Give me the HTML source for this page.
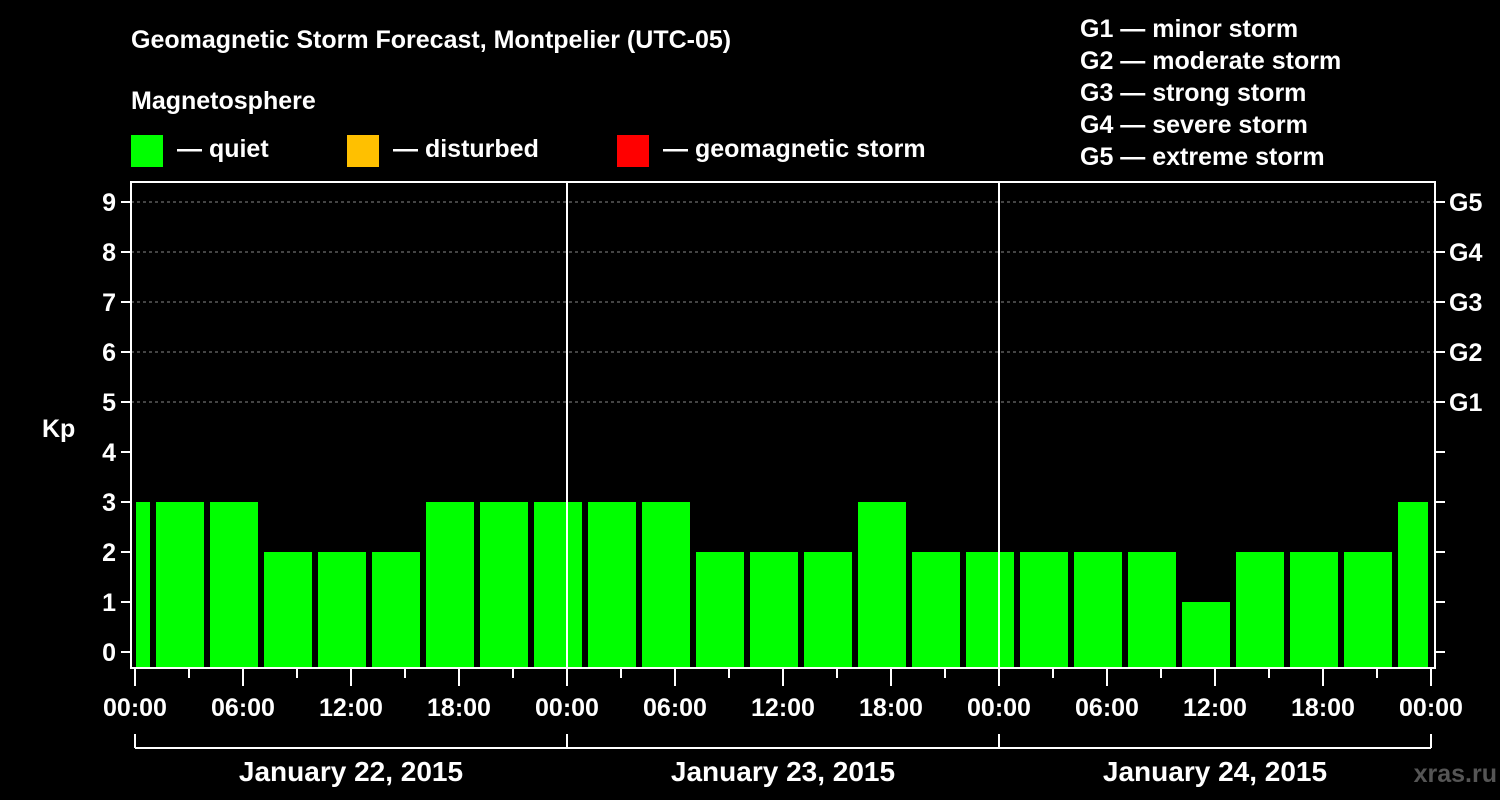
<!DOCTYPE html>
<html><head><meta charset="utf-8"><style>
body{margin:0;background:#000;width:1500px;height:800px;overflow:hidden}
svg{display:block;font-family:"Liberation Sans",Arial,sans-serif;font-weight:bold}
</style></head><body>
<svg id="c" width="1500" height="800">
<rect width="1500" height="800" fill="#000"/>
<text x="131" y="48" fill="#fff" font-size="25">Geomagnetic Storm Forecast, Montpelier (UTC-05)</text>
<text x="131" y="109" fill="#fff" font-size="25">Magnetosphere</text>
<g><rect x="131" y="135" width="32" height="32" fill="#00ff00"/><text x="177" y="157" fill="#fff" font-size="25">— quiet</text></g>
<g><rect x="347" y="135" width="32" height="32" fill="#ffc000"/><text x="393" y="157" fill="#fff" font-size="25">— disturbed</text></g>
<g><rect x="617" y="135" width="32" height="32" fill="#ff0000"/><text x="663" y="157" fill="#fff" font-size="25">— geomagnetic storm</text></g>
<g fill="#fff" font-size="25">
<text x="1080" y="37">G1 — minor storm</text><text x="1080" y="69">G2 — moderate storm</text><text x="1080" y="101">G3 — strong storm</text><text x="1080" y="133">G4 — severe storm</text><text x="1080" y="165">G5 — extreme storm</text>
</g>
<text x="42" y="437" fill="#fff" font-size="25">Kp</text>
<text x="1497" y="782" fill="#555" font-size="25" text-anchor="end">xras.ru</text>
<g id="g"></g>
</svg>
<script>
const kpValues=[3,3,3,2,2,2,3,3,3,3,3,2,2,2,3,2,2,2,2,2,1,2,2,2,3];
const yTicks=[0,1,2,3,4,5,6,7,8,9];
const gLabels=["G1","G2","G3","G4","G5"];
const xTickLabels=["00:00","06:00","12:00","18:00","00:00","06:00","12:00","18:00","00:00","06:00","12:00","18:00","00:00"];
const dayLabels=["January 22, 2015","January 23, 2015","January 24, 2015"];
const NS="http://www.w3.org/2000/svg",g=document.getElementById('g');
const L=131,R=1435,T=182,B=668,X0=135,PXH=18;
const x=h=>X0+h*PXH, y=v=>652-50*v;
function el(t,a,txt){const e=document.createElementNS(NS,t);for(const k in a)e.setAttribute(k,a[k]);if(txt!==undefined)e.textContent=txt;g.appendChild(e);return e;}
// grid
for(let v=5;v<=9;v++){const e=el('line',{x1:L,x2:R,y1:y(v),y2:y(v),stroke:'#888','stroke-dasharray':'3,3'});

}
// bars
kpValues.forEach((v,i)=>{const h0=Math.max(0,-2+3*i),h1=Math.min(72,1+3*i);
const x0=x(h0)+(i==0?1:3),x1=x(h1)-3;
const r=el('rect',{x:x0,y:y(v),width:x1-x0,height:B-1-y(v),fill:'#00ff00'});

});
// day separators
for(let d=1;d<3;d++){const e=el('line',{x1:x(24*d),x2:x(24*d),y1:T,y2:B,stroke:'#fff','stroke-width':2});

}
// frame
const f=el('rect',{x:L,y:T,width:R-L,height:B-T,fill:'none',stroke:'#fff','stroke-width':2});


// y ticks
yTicks.forEach(v=>{el('line',{x1:121,x2:L,y1:y(v),y2:y(v),stroke:'#fff','stroke-width':2});
el('line',{x1:R,x2:R+10,y1:y(v),y2:y(v),stroke:'#fff','stroke-width':2});
const t=el('text',{x:116,y:y(v)+9,fill:'#fff','font-size':25,'text-anchor':'end'},v);

});
gLabels.forEach((s,i)=>{const t=el('text',{x:1449,y:y(5+i)+9,fill:'#fff','font-size':25},s);

});
// x ticks
for(let h=0;h<=72;h+=3){const maj=h%6==0;el('line',{x1:x(h),x2:x(h),y1:B,y2:maj?686:678,stroke:'#fff','stroke-width':2});}
xTickLabels.forEach((s,i)=>{const t=el('text',{x:x(i*6),y:716,fill:'#fff','font-size':25,'text-anchor':'middle'},s);

});
// day bracket
el('line',{x1:x(0),x2:x(72),y1:748,y2:748,stroke:'#fff','stroke-width':2});
for(let d=0;d<=3;d++)el('line',{x1:x(24*d),x2:x(24*d),y1:734,y2:748,stroke:'#fff','stroke-width':2});
dayLabels.forEach((s,i)=>{const t=el('text',{x:x(24*i+12),y:781,fill:'#fff','font-size':28,'text-anchor':'middle'},s);

});
</script>
</body></html>
